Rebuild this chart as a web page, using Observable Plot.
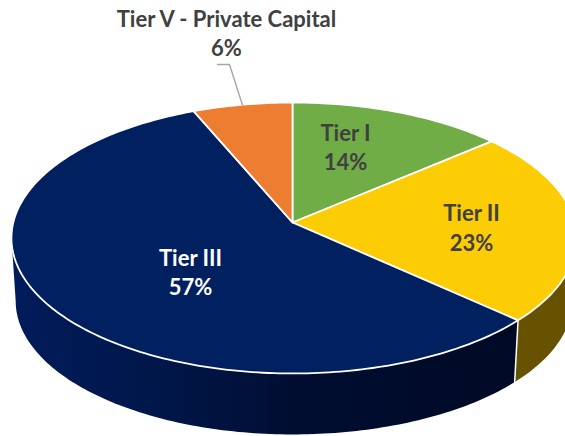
<!DOCTYPE html>
<html>
<head>
<meta charset="utf-8">
<script src="https://cdn.jsdelivr.net/npm/d3@7"></script>
<script src="https://cdn.jsdelivr.net/npm/@observablehq/plot@0.6"></script>
<style>html,body{margin:0;padding:0;background:#fff;overflow:hidden}</style>
</head>
<body>
<div id="chart"></div>
<script>
// Data (labels show these rounded to whole percents)
const categories = ["Tier I", "Tier II", "Tier III", "Tier V - Private Capital"];
const shares = [13.7, 23.1, 56.8, 6.4];
const topColors = ["#70AD47", "#FCCC05", "#002060", "#ED7D31"];
const wallColors = ["#435F2B", "#665200", "url(#navyWall)", "#8E4B1D"];
const labelColors = ["#404040", "#404040", "#FFFFFF", "#404040"];

// Layout of the tilted pie
const W = 565, H = 436;
const persp = 0.1144;        // perspective foreshortening
const shrink = 0.985;        // floor of the pie is slightly smaller
const drop = 0.473;          // thickness in model units
const pxCx = 292, pxCy = 222, bL = 279.2, bR = 282.2, bY = 133.7;
const labelPx = [[345, 145.5], [471, 226], [190, 270.5], [226, 31.5]];
const leaderElbowPx = [[229, 64], [217, 64]];

const pxX = (px) => px < pxCx ? (px - pxCx) / bL : (px - pxCx) / bR;
const pxY = (py) => (pxCy - py) / bY;
const toRad = (a) => (a * Math.PI) / 180;
function rim(deg) {
  const u = Math.sin(toRad(deg)), v = Math.cos(toRad(deg)), d = 1 + persp * v;
  return {X: u / d, Y: v / d};
}
const floor = (p) => ({X: p.X * shrink, Y: p.Y * shrink - drop});

// cumulative angles
const total = d3.sum(shares);
let acc = 0;
const slices = categories.map((name, i) => {
  const a0 = (acc / total) * 360;
  acc += shares[i];
  const a1 = (acc / total) * 360;
  return {name, i, a0, a1, mid: (a0 + a1) / 2, pct: Math.round((shares[i] / total) * 100)};
});
const arcOf = (a0, a1) => {
  const n = Math.max(2, Math.ceil(a1 - a0));
  return d3.range(n + 1).map((k) => rim(a0 + ((a1 - a0) * k) / n));
};

// top face polygons
const topPts = slices.flatMap((s) =>
  [{X: 0, Y: 0}, ...arcOf(s.a0, s.a1), {X: 0, Y: 0}].map((p) => ({...p, z: s.name, fill: topColors[s.i]}))
);

// side wall: rim arc and floor arc joined, visible front half only
const wallStart = 96.5, wallEnd = 263.5;
const wallPts = [];
const separators = [];
slices.forEach((s) => {
  const from = Math.max(s.a0, wallStart), to = Math.min(s.a1, wallEnd);
  if (to <= from) return;
  const arc = arcOf(from, to);
  [...arc, ...arc.map(floor).reverse(), arc[0]].forEach((p) => wallPts.push({...p, z: s.name, fill: wallColors[s.i]}));
  if (s.a1 < wallEnd) {
    const p = rim(s.a1);
    separators.push({...p, z: s.name}, {...floor(p), z: s.name});
  }
});

// leader for the outside label
const outside = slices[3];
const leader = [rim(outside.mid), ...leaderElbowPx.map(([x, y]) => ({X: pxX(x), Y: pxY(y)}))];

const labels = slices.map((s) => ({
  text: `${s.name}\n${s.pct}%`,
  X: pxX(labelPx[s.i][0]),
  Y: pxY(labelPx[s.i][1]),
  color: labelColors[s.i]
}));

// horizontal shading of the navy wall
const wallShade = () => {
  const svgNS = "http://www.w3.org/2000/svg";
  const defs = document.createElementNS(svgNS, "defs");
  const g = document.createElementNS(svgNS, "linearGradient");
  g.setAttribute("id", "navyWall");
  g.setAttribute("gradientUnits", "userSpaceOnUse");
  g.setAttribute("x1", 12); g.setAttribute("x2", 515);
  g.setAttribute("y1", 0); g.setAttribute("y2", 0);
  [[0, "#001B5A"], [0.28, "#00174A"], [0.58, "#000D30"], [1, "#000A26"]].forEach(([o, c]) => {
    const st = document.createElementNS(svgNS, "stop");
    st.setAttribute("offset", o); st.setAttribute("stop-color", c);
    g.appendChild(st);
  });
  defs.appendChild(g);
  return defs;
};

const chart = Plot.plot({
  width: W,
  height: H,
  margin: 0,
  style: {background: "#fff"},
  x: {axis: null, type: "linear", domain: [-1, 0, 1], range: [pxCx - bL, pxCx, pxCx + bR]},
  y: {axis: null, type: "linear", domain: [-1, 1], range: [pxCy + bY, pxCy - bY]},
  marks: [
    wallShade,
    Plot.line(wallPts, {x: "X", y: "Y", z: "z", fill: (d) => d.fill, stroke: null, curve: "linear"}),
    Plot.line(separators, {x: "X", y: "Y", z: "z", stroke: "#fff", strokeWidth: 1.5, curve: "linear"}),
    Plot.line(topPts, {x: "X", y: "Y", z: "z", fill: "fill", stroke: "#fff", strokeWidth: 1.8, curve: "linear", strokeLinejoin: "round"}),
    Plot.line(leader, {x: "X", y: "Y", stroke: "#A6A6A6", strokeWidth: 1.4, curve: "linear"}),
    Plot.text(labels, {
      x: "X", y: "Y", text: "text", fill: "color",
      fontFamily: "Lato, Carlito, sans-serif", fontWeight: 700, fontSize: 22,
      lineHeight: 1.35, lineAnchor: "middle", textAnchor: "middle"
    })
  ]
});
document.getElementById("chart").appendChild(chart);
</script>
</body>
</html>
